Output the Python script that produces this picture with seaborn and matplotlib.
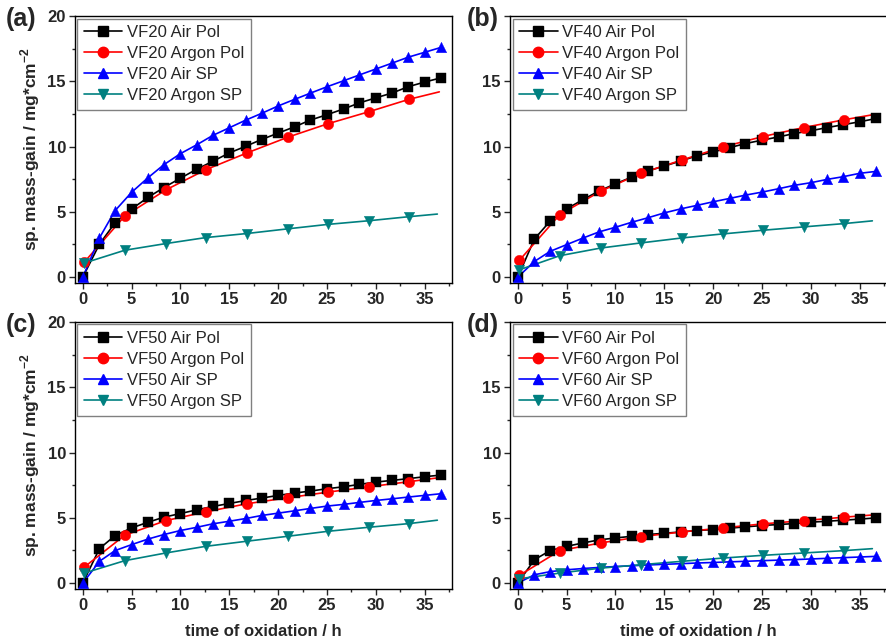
import matplotlib
matplotlib.use("Agg")
import matplotlib.pyplot as plt
import seaborn as sns
import pandas as pd
from matplotlib.lines import Line2D
from matplotlib.ticker import MultipleLocator

sns.set_style("ticks")
plt.rcParams['font.family'] = ['Liberation Sans', 'DejaVu Sans']
plt.rcParams['mathtext.fontset'] = 'custom'
plt.rcParams['mathtext.rm'] = 'Liberation Sans'
plt.rcParams['mathtext.bf'] = 'Liberation Sans:bold'

# ---------------- data ----------------
t_air = [0, 1.7, 3.3, 5.0, 6.7, 8.3, 10.0, 11.7, 13.3, 15.0, 16.7, 18.3, 20.0,
         21.7, 23.3, 25.0, 26.7, 28.3, 30.0, 31.7, 33.3, 35.0, 36.7]
t_argon = [0.15, 4.3, 8.5, 12.6, 16.8, 21.0, 25.1, 29.3, 33.4]
t_argon_pol_end = 36.5
t_argon_sp_end = 36.3

panel_names = ["VF20", "VF40", "VF50", "VF60"]
panel_tags = ["(a)", "(b)", "(c)", "(d)"]

vf20_air_pol = [0, 2.52, 4.16, 5.22, 6.12, 6.86, 7.58, 8.28, 8.87, 9.51, 10.03, 10.54,
                11.03, 11.52, 12.03, 12.44, 12.88, 13.34, 13.73, 14.11, 14.58, 14.94, 15.27]
vf20_air_sp = [0, 3.0, 5.09, 6.5, 7.63, 8.61, 9.46, 10.15, 10.85, 11.44, 12.03, 12.54,
               13.11, 13.62, 14.09, 14.58, 15.04, 15.48, 15.94, 16.40, 16.84, 17.22, 17.6]
vf20_argon_pol = [1.15, 4.68, 6.68, 8.23, 9.51, 10.72, 11.75, 12.67, 13.62]
vf20_argon_pol_end = 14.19
vf20_argon_sp = [1.08, 2.06, 2.57, 3.03, 3.34, 3.70, 4.04, 4.32, 4.63]
vf20_argon_sp_end = 4.83

vf40_air_pol = [0, 2.92, 4.28, 5.23, 5.95, 6.59, 7.15, 7.67, 8.13, 8.51, 8.90, 9.28,
                9.59, 9.92, 10.23, 10.49, 10.74, 11.0, 11.21, 11.46, 11.67, 11.90, 12.15]
vf40_air_sp = [0, 1.2, 1.97, 2.49, 3.0, 3.46, 3.82, 4.21, 4.54, 4.92, 5.23, 5.49,
               5.77, 6.03, 6.28, 6.51, 6.77, 7.03, 7.23, 7.49, 7.69, 7.95, 8.10]
vf40_argon_pol = [1.28, 4.79, 6.59, 7.95, 8.97, 9.97, 10.77, 11.46, 12.05]
vf40_argon_pol_end = 12.46
vf40_argon_sp = [0.56, 1.64, 2.23, 2.62, 3.0, 3.31, 3.59, 3.85, 4.10]
vf40_argon_sp_end = 4.31

vf50_air_pol = [0, 2.64, 3.64, 4.23, 4.67, 5.05, 5.33, 5.62, 5.87, 6.10, 6.33, 6.51,
                6.72, 6.90, 7.05, 7.23, 7.38, 7.56, 7.74, 7.87, 8.0, 8.15, 8.28]
vf50_air_sp = [0, 1.67, 2.49, 2.95, 3.38, 3.72, 4.03, 4.28, 4.54, 4.74, 4.95, 5.18,
               5.36, 5.54, 5.72, 5.90, 6.03, 6.18, 6.33, 6.46, 6.59, 6.72, 6.85]
vf50_argon_pol = [1.23, 3.67, 4.79, 5.46, 6.08, 6.54, 6.97, 7.38, 7.77]
vf50_argon_pol_end = 8.08
vf50_argon_sp = [0.77, 1.72, 2.31, 2.82, 3.21, 3.59, 3.97, 4.28, 4.56]
vf50_argon_sp_end = 4.82

vf60_air_pol = [0, 1.79, 2.49, 2.82, 3.08, 3.31, 3.46, 3.59, 3.72, 3.82, 3.92, 4.03,
                4.10, 4.21, 4.31, 4.41, 4.49, 4.56, 4.67, 4.74, 4.82, 4.90, 5.0]
vf60_air_sp = [0, 0.64, 0.88, 1.02, 1.12, 1.20, 1.27, 1.33, 1.39, 1.44, 1.49, 1.54,
               1.58, 1.63, 1.67, 1.72, 1.76, 1.80, 1.85, 1.90, 1.95, 2.00, 2.05]
vf60_argon_pol = [0.59, 2.49, 3.08, 3.56, 3.92, 4.23, 4.54, 4.79, 5.05]
vf60_argon_pol_end = 5.23
vf60_argon_sp = [0.33, 0.77, 1.15, 1.41, 1.67, 1.92, 2.13, 2.31, 2.49]
vf60_argon_sp_end = 2.64

panels = [
    (vf20_air_pol, vf20_argon_pol, vf20_argon_pol_end, vf20_air_sp, vf20_argon_sp, vf20_argon_sp_end),
    (vf40_air_pol, vf40_argon_pol, vf40_argon_pol_end, vf40_air_sp, vf40_argon_sp, vf40_argon_sp_end),
    (vf50_air_pol, vf50_argon_pol, vf50_argon_pol_end, vf50_air_sp, vf50_argon_sp, vf50_argon_sp_end),
    (vf60_air_pol, vf60_argon_pol, vf60_argon_pol_end, vf60_air_sp, vf60_argon_sp, vf60_argon_sp_end),
]

series_labels = ["Air Pol", "Argon Pol", "Air SP", "Argon SP"]
colors = ["#000000", "#FF0000", "#0000FF", "#008080"]
markers = ["s", "o", "^", "v"]
msizes = [6.5, 7.5, 7.5, 7.5]

# ---------------- figure ----------------
fig = plt.figure(figsize=(8.87, 6.4), dpi=100)
W, H = 887, 640
ax_w, ax_h = 377 / W, 267 / H
positions = [(75 / W, 1 - 283 / H), (510 / W, 1 - 283 / H),
             (75 / W, 1 - 589 / H), (510 / W, 1 - 589 / H)]
tag_offsets = [69, 43, 69, 43]

for i, (name, tag, data) in enumerate(zip(panel_names, panel_tags, panels)):
    air_pol, argon_pol, argon_pol_end, air_sp, argon_sp, argon_sp_end = data
    ax = fig.add_axes([positions[i][0], positions[i][1], ax_w, ax_h])

    series = [
        (t_air, air_pol, t_air, air_pol),
        (t_argon, argon_pol, t_argon + [t_argon_pol_end], argon_pol + [argon_pol_end]),
        (t_air, air_sp, t_air, air_sp),
        (t_argon, argon_sp, t_argon + [t_argon_sp_end], argon_sp + [argon_sp_end]),
    ]
    handles = []
    for k, (mx, my, lx, ly) in enumerate(series):
        sns.lineplot(x=lx, y=ly, ax=ax, color=colors[k], linewidth=1.2,
                     estimator=None, sort=False, zorder=2)
        sns.scatterplot(x=mx, y=my, ax=ax, marker=markers[k], s=msizes[k] ** 2,
                        color=colors[k], edgecolor=colors[k], linewidth=0.3, zorder=3)
        handles.append(Line2D([], [], color=colors[k], marker=markers[k],
                              markersize=msizes[k], linewidth=1.2,
                              label=f"{name} {series_labels[k]}"))

    ax.set_xlim(-0.8, 37.8)
    ax.set_ylim(-0.45, 20)
    ax.xaxis.set_major_locator(MultipleLocator(5))
    ax.xaxis.set_minor_locator(MultipleLocator(2.5))
    ax.yaxis.set_major_locator(MultipleLocator(5))
    ax.yaxis.set_minor_locator(MultipleLocator(2.5))
    ax.tick_params(which='major', direction='out', length=4, width=1.0,
                   labelsize=12, pad=2.5, top=False, right=False)
    ax.tick_params(which='minor', direction='out', length=2.3, width=1.0,
                   top=False, right=False)
    for lab in ax.get_xticklabels() + ax.get_yticklabels():
        lab.set_fontweight('bold')
    if i % 2 == 1:
        ax.set_yticks([0, 5, 10, 15, 20])
        ax.set_yticklabels(['0', '5', '10', '15', ''], fontweight='bold')
    for sp in ax.spines.values():
        sp.set_linewidth(1.0)
        sp.set_color('black')

    ax.set_xlabel("time of oxidation / h" if i >= 2 else "", fontsize=12,
                  fontweight='bold', labelpad=8)
    if i % 2 == 0:
        ax.set_ylabel(r"sp. mass-gain / mg*cm$^{\mathbf{-2}}$", fontsize=12.5,
                      fontweight='bold', labelpad=4)
    else:
        ax.set_ylabel("")

    leg = ax.legend(handles=handles, loc='upper left', fontsize=12,
                    frameon=True, fancybox=False, framealpha=1,
                    edgecolor='#808080', borderpad=0.4, labelspacing=0.36,
                    handlelength=2.3, handletextpad=0.3, borderaxespad=0.15)
    leg.get_frame().set_linewidth(1.0)

    fig.text(positions[i][0] - tag_offsets[i] / W, positions[i][1] + ax_h - 3 / H, tag,
             fontsize=18, fontweight='bold', ha='left', va='center')

fig.savefig("out.png", dpi=100)
